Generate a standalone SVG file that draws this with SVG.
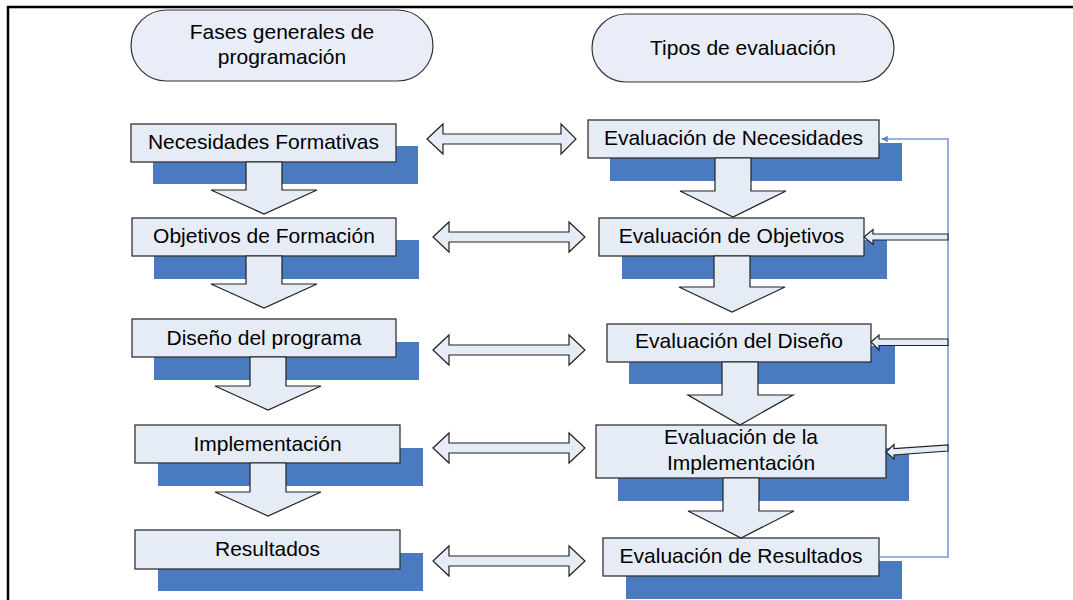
<svg xmlns="http://www.w3.org/2000/svg" width="1073" height="600" viewBox="0 0 1073 600">
<defs>
<style>
text{font-family:"Liberation Sans",Arial,sans-serif;font-size:21px;fill:#000;text-anchor:middle}
.box{fill:#E6ECF6;stroke:#333;stroke-width:1.3}
.sh{fill:#4A7BC0}
.pill{fill:#E8EDF7;stroke:#333;stroke-width:1.2}
.arr{fill:#E6ECF6;stroke:#222;stroke-width:1.2;stroke-linejoin:miter}
.fb{fill:none;stroke:#7B9BD6;stroke-width:1.6}
</style>
<marker id="bh" viewBox="0 0 10 10" refX="9" refY="5" markerWidth="4" markerHeight="4" orient="auto">
<path d="M0,0 L10,5 L0,10 z" fill="#5B82C8"/>
</marker>
</defs>
<rect width="1073" height="600" fill="#fff"/>
<path d="M8,600 V7 H1073" fill="none" stroke="#000" stroke-width="2.5"/>

<g id="hdr-left">
<rect class="pill" x="131" y="10" width="302" height="71" rx="35.5"/>
<text x="282" y="39">Fases generales de</text>
<text x="282" y="64">programación</text>
</g>
<g id="hdr-right">
<rect class="pill" x="592" y="14" width="302" height="68" rx="34"/>
<text x="743" y="55">Tipos de evaluación</text>
</g>

<g id="n-left-1">
<rect class="sh" x="153" y="146" width="265" height="38"/>
<rect class="box" x="131" y="124" width="265" height="38"/>
<text x="263.5" y="148.5">Necesidades Formativas</text>
</g>
<g id="n-left-2">
<rect class="sh" x="154" y="240" width="265" height="39"/>
<rect class="box" x="132" y="218" width="264" height="38"/>
<text x="264" y="243">Objetivos de Formación</text>
</g>
<g id="n-left-3">
<rect class="sh" x="154" y="342" width="265" height="38"/>
<rect class="box" x="132" y="319" width="264" height="38"/>
<text x="264" y="345">Diseño del programa</text>
</g>
<g id="n-left-4">
<rect class="sh" x="158" y="448" width="265" height="38"/>
<rect class="box" x="135" y="425" width="265" height="38"/>
<text x="267.5" y="451">Implementación</text>
</g>
<g id="n-left-5">
<rect class="sh" x="158" y="553" width="265" height="38"/>
<rect class="box" x="135" y="530" width="265" height="39"/>
<text x="267.5" y="556">Resultados</text>
</g>

<g id="n-right-1">
<rect class="sh" x="610" y="143" width="292" height="38"/>
<rect class="box" x="588" y="120" width="291" height="38"/>
<text x="733.5" y="145">Evaluación de Necesidades</text>
</g>
<g id="n-right-2">
<rect class="sh" x="622" y="240" width="265" height="39"/>
<rect class="box" x="599" y="218" width="265" height="38"/>
<text x="731.5" y="243">Evaluación de Objetivos</text>
</g>
<g id="n-right-3">
<rect class="sh" x="629" y="346" width="266" height="38"/>
<rect class="box" x="607" y="324" width="264" height="38"/>
<text x="739" y="348">Evaluación del Diseño</text>
</g>
<g id="n-right-4">
<rect class="sh" x="618" y="448" width="291" height="53"/>
<rect class="box" x="596" y="425" width="290" height="53"/>
<text x="741" y="444">Evaluación de la</text>
<text x="741" y="470">Implementación</text>
</g>
<g id="n-right-5">
<rect class="sh" x="626" y="561" width="276" height="38"/>
<rect class="box" x="603" y="538" width="276" height="38"/>
<text x="741" y="563">Evaluación de Resultados</text>
</g>

<g id="connectors">
<!-- down arrows left -->
<polygon class="arr" points="246,162 282,162 282,190 317,190 264,214 211,190 246,190"/>
<polygon class="arr" points="246,256 282,256 282,284 317,284 264,308 211,284 246,284"/>
<polygon class="arr" points="250,357 286,357 286,386 321,386 268,410 215,386 250,386"/>
<polygon class="arr" points="250,463 286,463 286,492 321,492 268,516 215,492 250,492"/>
<!-- down arrows right -->
<polygon class="arr" points="715,158 751,158 751,191 786,191 733,217 680,191 715,191"/>
<polygon class="arr" points="714,256 750,256 750,287 785,287 732,312 679,287 714,287"/>
<polygon class="arr" points="722,362 758,362 758,395 793,395 740,425 688,395 722,395"/>
<polygon class="arr" points="723,478 759,478 759,511 794,511 741,538 688,511 723,511"/>
<!-- double arrows -->
<polygon class="arr" points="427,139 443,124 443,134 561,134 561,124 576,139 561,154 561,144 443,144 443,154"/>
<polygon class="arr" points="433,237 449,222 449,232 569,232 569,222 585,237 569,252 569,242 449,242 449,252"/>
<polygon class="arr" points="433,350 449,335 449,345 569,345 569,335 585,350 569,365 569,355 449,355 449,365"/>
<polygon class="arr" points="433,448 449,433 449,443 569,443 569,433 585,448 569,463 569,453 449,453 449,463"/>
<polygon class="arr" points="433,561 449,546 449,556 569,556 569,546 585,561 569,576 569,566 449,566 449,576"/>
<!-- feedback line -->
<polyline class="fb" points="879,557 948,557 948,139 882,139" marker-end="url(#bh)"/>
<!-- feedback thin block arrows -->
<polygon class="arr" points="864,237 873,229.5 873,234 948,234 948,240 873,240 873,244.5"/>
<polygon class="arr" points="871,342 879,335 879,339 948,339 948,345.5 879,345.5 879,350"/>
<polygon class="arr" points="886,452 894,444.5 894,448.5 948,445 948,451 894,455 894,459"/>
</g>
</svg>
